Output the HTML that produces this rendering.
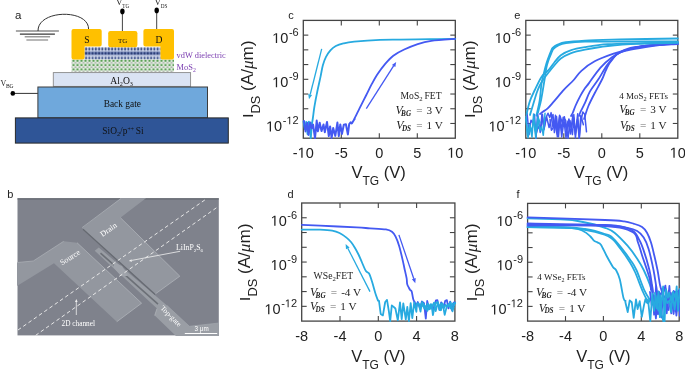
<!DOCTYPE html><html><head><meta charset="utf-8"><style>html,body{margin:0;padding:0;background:#fff;overflow:hidden;width:685px;height:369px;}svg{display:block;will-change:transform}</style></head><body>
<svg width="685" height="369" viewBox="0 0 685 369">
<defs>
<pattern id="diel" x="84.5" y="47.5" width="3.25" height="12" patternUnits="userSpaceOnUse"><rect width="3.25" height="12" fill="#c9d1e5"/><ellipse cx="1.6" cy="1.6" rx="1.0" ry="1.4" fill="#2f427b"/><rect x="0" y="4.2" width="3.25" height="3.2" fill="#6f82b6"/><ellipse cx="1.6" cy="5.8" rx="1.0" ry="1.5" fill="#2b3d76"/><ellipse cx="0" cy="5.8" rx="0.5" ry="0.9" fill="#4a5d95"/><ellipse cx="1.6" cy="10.6" rx="1.0" ry="1.3" fill="#42558e"/></pattern>
<pattern id="mos2" x="71.5" y="59.2" width="4" height="4.3" patternUnits="userSpaceOnUse"><rect width="4" height="4.3" fill="#e8efe6"/><circle cx="2" cy="1.6" r="1.25" fill="#5b9f56"/><circle cx="0" cy="3.7" r="0.8" fill="#8e988e"/><circle cx="4" cy="3.7" r="0.8" fill="#8e988e"/></pattern>
</defs>
<text x="15" y="18.8" font-family="'Liberation Sans', sans-serif" font-size="11.5" fill="#222">a</text>
<line x1="15.9" y1="31" x2="58.9" y2="31" stroke="#555" stroke-width="1.2"/>
<line x1="19.9" y1="34.2" x2="54.9" y2="34.2" stroke="#3a3a3a" stroke-width="1.2"/>
<line x1="24.7" y1="36.8" x2="50.1" y2="36.8" stroke="#808080" stroke-width="1.2"/>
<line x1="26.4" y1="40" x2="48.1" y2="40" stroke="#888" stroke-width="1.2"/>
<path d="M38,31 C37.5,9.5 89,8.5 88.6,29.3" fill="none" stroke="#333" stroke-width="1"/>
<line x1="122.4" y1="11.4" x2="122.4" y2="31.5" stroke="#444" stroke-width="1"/>
<ellipse cx="122.4" cy="11.4" rx="2.2" ry="2.8" fill="#000"/>
<line x1="156.7" y1="10.4" x2="156.7" y2="29.5" stroke="#444" stroke-width="1"/>
<ellipse cx="156.7" cy="10.4" rx="2.2" ry="2.8" fill="#000"/>
<text x="116" y="5.2" font-family="'Liberation Serif', serif" font-size="9" fill="#222">V</text>
<text x="122.3" y="7.6" font-family="'Liberation Serif', serif" font-size="5.2" fill="#222">TG</text>
<text x="154.4" y="5.2" font-family="'Liberation Serif', serif" font-size="9" fill="#222">V</text>
<text x="160.8" y="7.6" font-family="'Liberation Serif', serif" font-size="5.2" fill="#222">DS</text>
<rect x="71.5" y="59.3" width="102.5" height="12.6" fill="url(#mos2)"/>
<rect x="84.5" y="47.3" width="76" height="12" fill="url(#diel)"/>
<path d="M73.5,29 H99.7 Q101.7,29 101.7,31 V44.6 Q101.7,46.6 99.7,46.6 H84.6 V57.4 Q84.6,59.4 82.6,59.4 H73.5 Q71.5,59.4 71.5,57.4 V31 Q71.5,29 73.5,29 Z" fill="#ffc000"/>
<rect x="108.2" y="31" width="29.2" height="16.2" rx="2.2" fill="#ffc000"/>
<path d="M145.4,29 H172 Q174,29 174,31 V57.4 Q174,59.4 172,59.4 H162.5 Q160.5,59.4 160.5,57.4 V46.6 H145.4 Q143.4,46.6 143.4,44.6 V31 Q143.4,29 145.4,29 Z" fill="#ffc000"/>
<text x="86.8" y="43" font-family="'Liberation Serif', serif" font-size="9.6" fill="#111" text-anchor="middle">S</text>
<text x="122.6" y="43" font-family="'Liberation Serif', serif" font-size="7" fill="#111" text-anchor="middle">TG</text>
<text x="159" y="42.7" font-family="'Liberation Serif', serif" font-size="9.6" fill="#111" text-anchor="middle">D</text>
<text x="176.6" y="57.7" font-family="'Liberation Serif', serif" font-size="8.3" fill="#7a3db0" textLength="49.2" lengthAdjust="spacingAndGlyphs">vdW dielectric</text>
<text x="176.6" y="69.6" font-family="'Liberation Serif', serif" font-size="8.4" fill="#7a3db0">MoS<tspan font-size="5.8" dy="2">2</tspan></text>
<rect x="53.3" y="72.6" width="137.3" height="13.8" fill="#dae3f3" stroke="#8a8a8a" stroke-width="0.9"/>
<rect x="37.9" y="87.0" width="169.6" height="30.9" fill="#6fa8dc" stroke="#3c3c3c" stroke-width="1"/>
<rect x="15.4" y="117.9" width="212.9" height="25.2" fill="#2f5597" stroke="#2a2a2a" stroke-width="1"/>
<text x="121.6" y="83.8" font-family="'Liberation Serif', serif" font-size="9.6" fill="#111" text-anchor="middle">Al<tspan font-size="6.2" dy="2">2</tspan><tspan dy="-2">O</tspan><tspan font-size="6.2" dy="2">3</tspan></text>
<text x="122.3" y="106.6" font-family="'Liberation Serif', serif" font-size="9.4" fill="#111" text-anchor="middle">Back gate</text>
<text x="123" y="133.5" font-family="'Liberation Serif', serif" font-size="9.4" fill="#111" text-anchor="middle">SiO<tspan font-size="6.3" dy="2">2</tspan><tspan dy="-2">/p</tspan><tspan font-size="5.8" dy="-3">++</tspan><tspan dy="3"> Si</tspan></text>
<line x1="12.8" y1="93.4" x2="37.9" y2="93.4" stroke="#333" stroke-width="1"/>
<circle cx="12.8" cy="93.4" r="2.3" fill="#000"/>
<text x="0.5" y="86.1" font-family="'Liberation Serif', serif" font-size="8" fill="#222">V<tspan font-size="5.6" dx="-0.4" dy="2.1">BG</tspan></text>
<text x="7.2" y="198.3" font-family="'Liberation Sans', sans-serif" font-size="11" fill="#222">b</text>
<svg x="17.5" y="198.3" width="201.3" height="137.1" viewBox="17.5 198.3 201.3 137.1" overflow="hidden">
<rect x="17.5" y="198.3" width="201.3" height="137.1" fill="#7f828c"/>
<rect x="17.5" y="198.3" width="201.3" height="1.2" fill="#60646c"/>
<polygon points="82.1,227.9 121.1,198 146.2,198 120.4,217.7 179.8,276.2 155.5,293.8" fill="#93979f"/>
<polygon points="17,262.5 33.3,261 63.7,241.3 77,242.7 141.6,303.2 116.8,321.7 54,263.2 17,286" fill="#93979f"/>
<polygon points="94.7,250.8 98.8,247.6 167,305.5 189.4,326.3 219,323 219,336 176,336 154.7,315.5 157,308.6" fill="#9a9ea5"/>
<line x1="100.5" y1="253.2" x2="158" y2="304.2" stroke="#6c7077" stroke-width="1.6"/>
<line x1="83" y1="229.2" x2="155.2" y2="294.6" stroke="#666a71" stroke-width="1.2"/>
<polygon points="113,262 122,266 128,276 121,276 114,268" fill="#a0a4ab"/>
<line x1="82.1" y1="227.6" x2="121.1" y2="198.4" stroke="#a9adb4" stroke-width="0.8"/>
<line x1="33.3" y1="261" x2="63.7" y2="241.3" stroke="#a9adb4" stroke-width="0.8"/>
<line x1="17.5" y1="262.5" x2="33.3" y2="261" stroke="#a9adb4" stroke-width="0.8"/>
<line x1="154.7" y1="315.5" x2="157" y2="308.6" stroke="#aeb2b8" stroke-width="0.8"/>
<line x1="167" y1="305.5" x2="189.4" y2="326.3" stroke="#a5a9b0" stroke-width="0.6"/>
<line x1="189.4" y1="326.3" x2="219" y2="323" stroke="#a5a9b0" stroke-width="0.6"/>
<polyline points="120.4,217.7 179.8,276.2 155.5,293.8" fill="none" stroke="#aeb2b9" stroke-width="0.8"/>
<polyline points="77,242.7 141.6,303.2 116.8,321.7" fill="none" stroke="#aeb2b9" stroke-width="0.8"/>
<line x1="18" y1="330" x2="205.5" y2="199.5" stroke="#ececec" stroke-width="0.95" stroke-dasharray="3.6 2.8"/>
<line x1="35.6" y1="335.4" x2="218.7" y2="206.2" stroke="#ececec" stroke-width="0.95" stroke-dasharray="3.6 2.8"/>
<line x1="180.1" y1="251.3" x2="131.7" y2="260.4" stroke="#f0f0f0" stroke-width="0.8"/>
<polygon points="128.8,261.0 131.5,259.2 132.0,261.7" fill="#f0f0f0"/>
<line x1="76.3" y1="315.0" x2="76.3" y2="302.0" stroke="#f0f0f0" stroke-width="0.8"/>
<polygon points="76.3,299.0 77.6,302.0 75.0,302.0" fill="#f0f0f0"/>
<line x1="184.8" y1="333.5" x2="217.2" y2="333.5" stroke="#fff" stroke-width="1.1"/>
<text x="194.6" y="331" font-family="'Liberation Sans', sans-serif" font-size="6.3" fill="#fff">3 μm</text>
<text x="176" y="250.3" font-family="'Liberation Serif', serif" font-size="7.8" fill="#fff">LiInP<tspan font-size="5" dy="1.5">2</tspan><tspan dy="-1.5">S</tspan><tspan font-size="5" dy="1.5">6</tspan></text>
<text x="61.6" y="326" font-family="'Liberation Serif', serif" font-size="7.3" fill="#fff">2D channel</text>
<text transform="translate(102.5,237) rotate(-35)" font-family="'Liberation Serif', serif" font-size="8" fill="#fff">Drain</text>
<text transform="translate(62,265.5) rotate(-32)" font-family="'Liberation Serif', serif" font-size="8" fill="#fff">Source</text>
<text transform="translate(160,308.5) rotate(45)" font-family="'Liberation Serif', serif" font-size="7.4" fill="#fff">Top-gate</text>
</svg>
<rect x="303.3" y="20.4" width="152.0" height="117.79999999999998" fill="none" stroke="#444" stroke-width="1.3"/>
<line x1="341.3" y1="20.4" x2="341.3" y2="25.4" stroke="#444" stroke-width="1.1"/>
<line x1="341.3" y1="138.2" x2="341.3" y2="133.2" stroke="#444" stroke-width="1.1"/>
<line x1="379.3" y1="20.4" x2="379.3" y2="25.4" stroke="#444" stroke-width="1.1"/>
<line x1="379.3" y1="138.2" x2="379.3" y2="133.2" stroke="#444" stroke-width="1.1"/>
<line x1="417.3" y1="20.4" x2="417.3" y2="25.4" stroke="#444" stroke-width="1.1"/>
<line x1="417.3" y1="138.2" x2="417.3" y2="133.2" stroke="#444" stroke-width="1.1"/>
<line x1="303.3" y1="35.125" x2="308.3" y2="35.125" stroke="#444" stroke-width="1.1"/>
<line x1="455.3" y1="35.125" x2="450.3" y2="35.125" stroke="#444" stroke-width="1.1"/>
<line x1="303.3" y1="49.849999999999994" x2="308.3" y2="49.849999999999994" stroke="#444" stroke-width="1.1"/>
<line x1="455.3" y1="49.849999999999994" x2="450.3" y2="49.849999999999994" stroke="#444" stroke-width="1.1"/>
<line x1="303.3" y1="64.57499999999999" x2="308.3" y2="64.57499999999999" stroke="#444" stroke-width="1.1"/>
<line x1="455.3" y1="64.57499999999999" x2="450.3" y2="64.57499999999999" stroke="#444" stroke-width="1.1"/>
<line x1="303.3" y1="79.29999999999998" x2="308.3" y2="79.29999999999998" stroke="#444" stroke-width="1.1"/>
<line x1="455.3" y1="79.29999999999998" x2="450.3" y2="79.29999999999998" stroke="#444" stroke-width="1.1"/>
<line x1="303.3" y1="94.02499999999998" x2="308.3" y2="94.02499999999998" stroke="#444" stroke-width="1.1"/>
<line x1="455.3" y1="94.02499999999998" x2="450.3" y2="94.02499999999998" stroke="#444" stroke-width="1.1"/>
<line x1="303.3" y1="108.75" x2="308.3" y2="108.75" stroke="#444" stroke-width="1.1"/>
<line x1="455.3" y1="108.75" x2="450.3" y2="108.75" stroke="#444" stroke-width="1.1"/>
<line x1="303.3" y1="123.475" x2="308.3" y2="123.475" stroke="#444" stroke-width="1.1"/>
<line x1="455.3" y1="123.475" x2="450.3" y2="123.475" stroke="#444" stroke-width="1.1"/>
<text x="288.3" y="19.1" font-family="'Liberation Sans', sans-serif" font-size="11" fill="#222">c</text>
<text x="298.7" y="43.125" font-family="'Liberation Sans', sans-serif" font-size="14.5" fill="#222" text-anchor="end"> 0<tspan font-size="11" dx="0.6" dy="-7.2">-6</tspan></text>
<path transform="translate(272.19,43.12) scale(0.00708,-0.00708)" d="M515,0 L515,1237 L197,1010 L197,1180 L530,1409 L696,1409 L696,0 Z" fill="#222"/>
<text x="298.7" y="87.29999999999998" font-family="'Liberation Sans', sans-serif" font-size="14.5" fill="#222" text-anchor="end"> 0<tspan font-size="11" dx="0.6" dy="-7.2">-9</tspan></text>
<path transform="translate(272.19,87.30) scale(0.00708,-0.00708)" d="M515,0 L515,1237 L197,1010 L197,1180 L530,1409 L696,1409 L696,0 Z" fill="#222"/>
<text x="298.7" y="131.475" font-family="'Liberation Sans', sans-serif" font-size="14.5" fill="#222" text-anchor="end"> 0<tspan font-size="11" dx="0.6" dy="-7.2">- 2</tspan></text>
<path transform="translate(266.07,131.47) scale(0.00708,-0.00708)" d="M515,0 L515,1237 L197,1010 L197,1180 L530,1409 L696,1409 L696,0 Z" fill="#222"/>
<path transform="translate(286.46,124.27) scale(0.00537,-0.00537)" d="M515,0 L515,1237 L197,1010 L197,1180 L530,1409 L696,1409 L696,0 Z" fill="#222"/>
<text x="303.30" y="157.70" font-family="'Liberation Sans', sans-serif" font-size="14.5" fill="#222" text-anchor="middle">- 0</text>
<path transform="translate(297.65,157.70) scale(0.00708,-0.00708)" d="M515,0 L515,1237 L197,1010 L197,1180 L530,1409 L696,1409 L696,0 Z" fill="#222"/>
<text x="341.30" y="157.70" font-family="'Liberation Sans', sans-serif" font-size="14.5" fill="#222" text-anchor="middle">-5</text>
<text x="379.30" y="157.70" font-family="'Liberation Sans', sans-serif" font-size="14.5" fill="#222" text-anchor="middle">0</text>
<text x="417.30" y="157.70" font-family="'Liberation Sans', sans-serif" font-size="14.5" fill="#222" text-anchor="middle">5</text>
<text x="455.30" y="157.70" font-family="'Liberation Sans', sans-serif" font-size="14.5" fill="#222" text-anchor="middle"> 0</text>
<path transform="translate(447.24,157.70) scale(0.00708,-0.00708)" d="M515,0 L515,1237 L197,1010 L197,1180 L530,1409 L696,1409 L696,0 Z" fill="#222"/>
<svg x="302.5" y="19.599999999999998" width="153.6" height="119.39999999999998" viewBox="302.5 19.599999999999998 153.6 119.39999999999998" overflow="hidden">
<path d="M455.3,38.8 C451.1,38.9 439.2,39.1 430.0,39.2 C420.8,39.3 408.3,39.5 400.0,39.6 C391.7,39.7 387.6,39.5 380.0,39.9 C372.4,40.2 360.3,41.1 354.2,41.7 C348.1,42.3 346.5,42.7 343.4,43.4 C340.3,44.1 338.0,44.8 335.8,46.0 C333.6,47.2 332.0,48.6 330.4,50.4 C328.8,52.2 327.3,54.4 326.0,56.9 C324.7,59.4 323.7,62.2 322.8,65.5 C321.9,68.8 321.5,72.1 320.6,76.4 C319.7,80.7 318.1,87.6 317.3,91.5 C316.5,95.4 316.1,97.2 315.6,100.0 C315.1,102.8 314.7,104.7 314.2,108.0 C313.7,111.3 313.0,117.5 312.6,120.0 C312.2,122.5 312.1,122.5 312.0,123.0" fill="none" stroke="#27aae0" stroke-width="1.8" stroke-linejoin="round" stroke-linecap="round"/>
<path d="M303.5,121.7 L304.8,129.2 L306.2,121.8 L307.5,134.2 L308.9,121.7 L310.8,138.3 L312.0,123.0" fill="none" stroke="#27aae0" stroke-width="1.8" stroke-linejoin="round" stroke-linecap="round" />
<path d="M304.0,121.0 L305.5,131.4 L307.3,122.8 L308.5,134.9 L310.2,122.5 L311.7,128.2 L313.1,124.6 L315.0,138.4 L316.7,120.6 L317.9,131.3 L319.7,122.8 L321.5,131.1 L323.5,124.5 L324.8,132.2 L327.0,121.9 L328.8,136.1 L330.1,126.5 L331.6,137.9 L333.2,128.0 L335.3,135.9 L337.4,122.6 L338.8,136.2 L340.3,124.4 L342.0,133.9 L343.8,124.7 L345.9,124.3 L347.9,134.5 L349.2,124.1 L350.6,122.3 L351.8,123.4 L354.5,119.0" fill="none" stroke="#4459f2" stroke-width="2.0" stroke-linejoin="round" stroke-linecap="round" />
<path d="M354.5,119.0 C354.6,118.6 354.3,118.9 355.4,116.7 C356.4,114.5 359.0,109.5 360.8,105.9 C362.6,102.3 364.5,98.6 366.3,95.0 C368.1,91.4 369.9,87.6 371.7,84.2 C373.5,80.8 374.9,78.1 377.1,74.7 C379.4,71.3 382.5,67.1 385.2,63.9 C387.9,60.7 390.1,58.1 393.3,55.7 C396.5,53.3 400.1,51.4 404.2,49.5 C408.3,47.6 413.2,45.6 417.7,44.1 C422.2,42.6 425.1,41.7 431.3,40.8 C437.5,39.9 451.1,39.1 455.0,38.8" fill="none" stroke="#4459f2" stroke-width="1.8" stroke-linejoin="round" stroke-linecap="round"/>
</svg>
<line x1="366.3" y1="108.6" x2="393.6" y2="65.9" stroke="#4459f2" stroke-width="1.3"/>
<polygon points="396.2,61.9 395.3,67.0 391.9,64.9" fill="#4459f2"/>
<line x1="321.7" y1="48.8" x2="310.2" y2="94.5" stroke="#27aae0" stroke-width="1.3"/>
<polygon points="309.0,99.2 308.2,94.1 312.1,95.0" fill="#27aae0"/>
<text x="441.6" y="99" font-family="'Liberation Serif', serif" font-size="9.6" fill="#222" text-anchor="end" >MoS<tspan font-size="6.7" dy="2">2</tspan><tspan dy="-2"> FET</tspan></text>
<text x="442.9" y="113.8" font-family="'Liberation Serif', serif" font-size="11.2" fill="#222" text-anchor="end"><tspan font-style="italic" font-size="11.8">V</tspan><tspan font-style="italic" font-weight="bold" font-size="7.2" dx="-1.6" dy="1.7">BG</tspan><tspan dx="2.4" dy="-1.7" fill="#6a6a6a"> =</tspan><tspan dx="1.2"> 3 V</tspan></text>
<text x="442.9" y="129" font-family="'Liberation Serif', serif" font-size="11.2" fill="#222" text-anchor="end"><tspan font-style="italic" font-size="11.8">V</tspan><tspan font-style="italic" font-weight="bold" font-size="7.2" dx="-1.6" dy="1.7">DS</tspan><tspan dx="2.4" dy="-1.7" fill="#6a6a6a"> =</tspan><tspan dx="1.2"> 1 V</tspan></text>
<text transform="translate(252.5,79.3) rotate(-90) scale(1.07,1)" font-family="'Liberation Sans', sans-serif" font-size="15.5" fill="#222" text-anchor="middle">I<tspan font-size="12" dy="7.3">DS</tspan><tspan font-size="16" dy="-7.3"> (A/</tspan><tspan font-size="16" font-family="'Liberation Serif', serif" font-style="italic">μ</tspan><tspan font-size="16">m)</tspan></text>
<text x="378.6" y="178.1" font-family="'Liberation Sans', sans-serif" font-size="16.5" fill="#222" text-anchor="middle">V<tspan font-size="12" dy="7.1">TG</tspan><tspan dy="-7.1"> (V)</tspan></text>
<rect x="525.8" y="20.4" width="152.0" height="117.79999999999998" fill="none" stroke="#444" stroke-width="1.3"/>
<line x1="563.8" y1="20.4" x2="563.8" y2="25.4" stroke="#444" stroke-width="1.1"/>
<line x1="563.8" y1="138.2" x2="563.8" y2="133.2" stroke="#444" stroke-width="1.1"/>
<line x1="601.8" y1="20.4" x2="601.8" y2="25.4" stroke="#444" stroke-width="1.1"/>
<line x1="601.8" y1="138.2" x2="601.8" y2="133.2" stroke="#444" stroke-width="1.1"/>
<line x1="639.8" y1="20.4" x2="639.8" y2="25.4" stroke="#444" stroke-width="1.1"/>
<line x1="639.8" y1="138.2" x2="639.8" y2="133.2" stroke="#444" stroke-width="1.1"/>
<line x1="525.8" y1="35.125" x2="530.8" y2="35.125" stroke="#444" stroke-width="1.1"/>
<line x1="677.8" y1="35.125" x2="672.8" y2="35.125" stroke="#444" stroke-width="1.1"/>
<line x1="525.8" y1="49.849999999999994" x2="530.8" y2="49.849999999999994" stroke="#444" stroke-width="1.1"/>
<line x1="677.8" y1="49.849999999999994" x2="672.8" y2="49.849999999999994" stroke="#444" stroke-width="1.1"/>
<line x1="525.8" y1="64.57499999999999" x2="530.8" y2="64.57499999999999" stroke="#444" stroke-width="1.1"/>
<line x1="677.8" y1="64.57499999999999" x2="672.8" y2="64.57499999999999" stroke="#444" stroke-width="1.1"/>
<line x1="525.8" y1="79.29999999999998" x2="530.8" y2="79.29999999999998" stroke="#444" stroke-width="1.1"/>
<line x1="677.8" y1="79.29999999999998" x2="672.8" y2="79.29999999999998" stroke="#444" stroke-width="1.1"/>
<line x1="525.8" y1="94.02499999999998" x2="530.8" y2="94.02499999999998" stroke="#444" stroke-width="1.1"/>
<line x1="677.8" y1="94.02499999999998" x2="672.8" y2="94.02499999999998" stroke="#444" stroke-width="1.1"/>
<line x1="525.8" y1="108.75" x2="530.8" y2="108.75" stroke="#444" stroke-width="1.1"/>
<line x1="677.8" y1="108.75" x2="672.8" y2="108.75" stroke="#444" stroke-width="1.1"/>
<line x1="525.8" y1="123.475" x2="530.8" y2="123.475" stroke="#444" stroke-width="1.1"/>
<line x1="677.8" y1="123.475" x2="672.8" y2="123.475" stroke="#444" stroke-width="1.1"/>
<text x="514.2" y="18.9" font-family="'Liberation Sans', sans-serif" font-size="11" fill="#222">e</text>
<text x="521.1999999999999" y="43.125" font-family="'Liberation Sans', sans-serif" font-size="14.5" fill="#222" text-anchor="end"> 0<tspan font-size="11" dx="0.6" dy="-7.2">-6</tspan></text>
<path transform="translate(494.69,43.12) scale(0.00708,-0.00708)" d="M515,0 L515,1237 L197,1010 L197,1180 L530,1409 L696,1409 L696,0 Z" fill="#222"/>
<text x="521.1999999999999" y="87.29999999999998" font-family="'Liberation Sans', sans-serif" font-size="14.5" fill="#222" text-anchor="end"> 0<tspan font-size="11" dx="0.6" dy="-7.2">-9</tspan></text>
<path transform="translate(494.69,87.30) scale(0.00708,-0.00708)" d="M515,0 L515,1237 L197,1010 L197,1180 L530,1409 L696,1409 L696,0 Z" fill="#222"/>
<text x="521.1999999999999" y="131.475" font-family="'Liberation Sans', sans-serif" font-size="14.5" fill="#222" text-anchor="end"> 0<tspan font-size="11" dx="0.6" dy="-7.2">- 2</tspan></text>
<path transform="translate(488.57,131.47) scale(0.00708,-0.00708)" d="M515,0 L515,1237 L197,1010 L197,1180 L530,1409 L696,1409 L696,0 Z" fill="#222"/>
<path transform="translate(508.96,124.27) scale(0.00537,-0.00537)" d="M515,0 L515,1237 L197,1010 L197,1180 L530,1409 L696,1409 L696,0 Z" fill="#222"/>
<text x="525.80" y="157.70" font-family="'Liberation Sans', sans-serif" font-size="14.5" fill="#222" text-anchor="middle">- 0</text>
<path transform="translate(520.15,157.70) scale(0.00708,-0.00708)" d="M515,0 L515,1237 L197,1010 L197,1180 L530,1409 L696,1409 L696,0 Z" fill="#222"/>
<text x="563.80" y="157.70" font-family="'Liberation Sans', sans-serif" font-size="14.5" fill="#222" text-anchor="middle">-5</text>
<text x="601.80" y="157.70" font-family="'Liberation Sans', sans-serif" font-size="14.5" fill="#222" text-anchor="middle">0</text>
<text x="639.80" y="157.70" font-family="'Liberation Sans', sans-serif" font-size="14.5" fill="#222" text-anchor="middle">5</text>
<text x="677.80" y="157.70" font-family="'Liberation Sans', sans-serif" font-size="14.5" fill="#222" text-anchor="middle"> 0</text>
<path transform="translate(669.74,157.70) scale(0.00708,-0.00708)" d="M515,0 L515,1237 L197,1010 L197,1180 L530,1409 L696,1409 L696,0 Z" fill="#222"/>
<svg x="525.0" y="19.599999999999998" width="153.6" height="119.39999999999998" viewBox="525.0 19.599999999999998 153.6 119.39999999999998" overflow="hidden">
<path d="M527.0,112.9 L529.1,134.5 L531.0,120.2 L532.9,123.0 L534.5,114.5 L536.0,138.7 L537.6,113.3 L540.2,132.5 L541.9,114.4 L544.0,129.7 L545.6,118.4 L548.0,113.3 L549.7,117.5 L551.1,112.6 L552.8,126.5 L555.4,125.8 L557.2,134.2 L559.7,116.1 L561.7,137.0 L564.0,120.6 L566.0,137.8 L567.9,121.3 L570.4,133.9 L572.8,115.5" fill="none" stroke="#4459f2" stroke-width="1.5" stroke-linejoin="round" stroke-linecap="round" />
<path d="M534.0,121.5 L536.1,134.1 L538.2,126.5 L540.7,131.2 L542.4,114.2 L544.1,128.7 L546.6,117.0 L549.1,127.5 L551.1,120.0 L553.0,114.4 L554.4,132.6 L556.5,116.4 L558.5,136.8 L560.2,116.5 L562.2,122.5 L564.4,116.8 L566.4,131.2 L568.9,119.0 L571.4,128.7 L573.8,114.6 L575.3,134.4 L577.7,113.8 L579.3,138.4 L580.9,121.4 L582.8,112.0 L584.7,114.4 L586.5,131.8" fill="none" stroke="#4459f2" stroke-width="1.5" stroke-linejoin="round" stroke-linecap="round" />
<path d="M550.0,119.6 L551.4,130.2 L554.0,126.5 L555.5,115.2 L557.3,136.7 L559.6,115.2 L561.7,131.0 L563.2,117.2 L565.7,120.5 L568.1,138.5 L569.9,120.5 L572.4,134.6 L573.9,117.9 L575.4,138.0 L577.4,119.6 L579.2,137.9 L580.8,115.5 L583.4,124.8" fill="none" stroke="#4459f2" stroke-width="1.5" stroke-linejoin="round" stroke-linecap="round" />
<path d="M677.8,43.3 C672.5,43.7 654.4,44.5 645.9,45.6 C637.4,46.7 632.3,48.5 626.9,49.9 C621.5,51.2 619.0,51.8 613.6,53.7 C608.2,55.6 600.1,58.4 594.7,61.3 C589.3,64.1 584.9,67.7 581.4,70.8 C577.9,73.9 576.6,76.8 573.7,80.0 C570.8,83.2 567.2,86.2 564.0,89.7 C560.8,93.2 556.9,98.0 554.2,101.1 C551.5,104.2 549.6,106.6 547.7,108.4 C545.8,110.2 544.2,110.8 542.9,111.7 C541.6,112.6 540.5,113.6 540.0,114.0" fill="none" stroke="#4459f2" stroke-width="1.8" stroke-linejoin="round" stroke-linecap="round"/>
<path d="M677.8,44.2 C671.8,44.5 651.2,44.9 642.1,46.1 C633.0,47.3 628.2,49.3 623.1,51.2 C618.0,53.1 615.5,54.7 611.7,57.5 C607.9,60.3 604.1,63.6 600.3,67.9 C596.5,72.2 591.5,79.7 589.0,83.1 C586.5,86.5 586.6,85.9 585.1,88.1 C583.6,90.3 581.8,93.2 580.2,96.2 C578.6,99.2 576.6,103.3 575.4,106.0 C574.2,108.7 573.6,110.8 572.9,112.5 C572.2,114.2 571.3,115.4 571.0,116.0" fill="none" stroke="#4459f2" stroke-width="1.8" stroke-linejoin="round" stroke-linecap="round"/>
<path d="M677.8,43.7 C670.6,44.3 644.2,45.6 634.5,47.1 C624.8,48.6 623.7,50.0 619.3,52.8 C614.9,55.6 611.4,59.7 607.9,64.1 C604.4,68.5 601.4,74.8 598.4,79.3 C595.4,83.8 592.2,87.5 590.0,91.4 C587.8,95.3 586.7,99.2 585.1,102.7 C583.5,106.2 581.2,110.3 580.2,112.5 C579.2,114.7 579.2,115.4 579.0,116.0" fill="none" stroke="#4459f2" stroke-width="1.8" stroke-linejoin="round" stroke-linecap="round"/>
<path d="M677.8,42.3 C669.0,43.7 636.0,47.9 625.0,50.9 C614.0,53.9 614.9,57.1 611.7,60.3 C608.5,63.5 607.6,66.8 606.0,70.0 C604.4,73.2 603.9,75.7 602.0,79.5 C600.1,83.3 597.1,88.6 594.8,93.0 C592.5,97.4 590.0,102.2 588.4,106.0 C586.8,109.8 585.8,113.5 585.1,115.7 C584.4,117.9 584.2,118.5 584.0,119.0" fill="none" stroke="#4459f2" stroke-width="1.8" stroke-linejoin="round" stroke-linecap="round"/>
<path d="M677.8,38.5 C668.2,38.7 635.5,39.1 620.0,39.5 C604.5,39.9 594.0,40.1 585.0,40.6 C576.0,41.1 570.3,41.5 565.7,42.2 C561.1,42.9 559.7,43.7 557.5,44.6 C555.3,45.5 553.7,46.8 552.6,47.9 C551.5,49.0 551.8,49.2 551.0,51.1 C550.2,53.0 548.8,56.6 547.8,59.3 C546.8,62.0 546.1,64.4 545.3,67.4 C544.5,70.4 543.6,74.3 542.9,77.2 C542.2,80.1 541.8,81.0 541.3,85.0 C540.8,89.0 540.4,95.9 539.6,101.0 C538.8,106.1 536.9,113.2 536.4,115.7" fill="none" stroke="#27aae0" stroke-width="1.8" stroke-linejoin="round" stroke-linecap="round"/>
<path d="M677.8,41.4 C668.2,41.4 635.5,41.5 620.0,41.6 C604.5,41.7 594.0,41.4 585.0,41.7 C576.0,42.0 570.5,42.6 566.0,43.2 C561.5,43.9 560.1,44.7 558.0,45.6 C555.9,46.5 554.5,47.8 553.5,48.9 C552.5,50.0 552.6,50.1 551.8,52.0 C551.0,53.9 549.5,57.3 548.6,60.0 C547.7,62.7 547.0,64.7 546.3,68.0 C545.6,71.3 545.4,74.8 544.5,80.0 C543.6,85.2 542.3,94.1 541.2,99.5 C540.1,104.9 538.5,110.3 538.0,112.5" fill="none" stroke="#27aae0" stroke-width="1.8" stroke-linejoin="round" stroke-linecap="round"/>
<path d="M677.8,42.9 C671.5,43.0 651.6,43.3 640.0,43.5 C628.4,43.7 617.1,43.6 607.9,44.2 C598.7,44.8 591.2,46.1 585.0,47.1 C578.8,48.1 574.5,48.9 570.5,50.3 C566.5,51.6 563.5,53.2 560.8,55.2 C558.1,57.2 556.2,60.2 554.3,62.5 C552.4,64.8 550.8,67.4 549.4,69.0 C548.0,70.6 547.5,70.9 546.1,72.3 C544.8,73.7 543.2,74.2 541.3,77.2 C539.4,80.2 536.7,86.0 534.8,90.0 C532.9,94.0 531.3,97.1 529.9,101.1 C528.5,105.1 527.1,111.9 526.6,114.1" fill="none" stroke="#27aae0" stroke-width="1.8" stroke-linejoin="round" stroke-linecap="round"/>
<path d="M677.8,42.2 C671.5,42.4 651.6,43.0 640.0,43.6 C628.4,44.2 617.1,45.0 607.9,46.0 C598.7,47.0 591.2,48.4 585.0,49.6 C578.8,50.8 574.5,51.8 570.5,53.3 C566.5,54.8 563.5,56.5 560.8,58.5 C558.1,60.5 556.2,63.3 554.3,65.5 C552.4,67.7 550.9,69.6 549.4,71.5 C547.9,73.4 546.6,74.8 545.0,77.0 C543.4,79.2 541.3,82.5 540.0,85.0 C538.7,87.5 538.2,88.7 537.0,92.0 C535.8,95.3 534.2,101.2 533.0,105.0 C531.8,108.8 530.5,113.3 530.0,115.0" fill="none" stroke="#27aae0" stroke-width="1.8" stroke-linejoin="round" stroke-linecap="round"/>
<path d="M526.0,119.1 L528.0,137.8 L530.2,127.0 L532.0,137.2 L533.6,113.9 L536.0,133.7 L537.9,118.8 L539.9,130.6 L541.6,126.5 L543.3,135.3 L545.0,113.2" fill="none" stroke="#27aae0" stroke-width="1.5" stroke-linejoin="round" stroke-linecap="round" />
<path d="M526.0,116.2 L527.5,135.5 L529.6,124.3 L531.8,132.1 L533.6,118.9 L535.8,138.2 L537.9,116.9 L540.0,122.5" fill="none" stroke="#27aae0" stroke-width="1.5" stroke-linejoin="round" stroke-linecap="round" />
</svg>
<text x="667.9" y="98.7" font-family="'Liberation Serif', serif" font-size="9" fill="#222" text-anchor="end" >4 MoS<tspan font-size="6.3" dy="1.8">2</tspan><tspan dy="-1.8"> FETs</tspan></text>
<text x="666.6" y="113.3" font-family="'Liberation Serif', serif" font-size="11.2" fill="#222" text-anchor="end"><tspan font-style="italic" font-size="11.8">V</tspan><tspan font-style="italic" font-weight="bold" font-size="7.2" dx="-1.6" dy="1.7">BG</tspan><tspan dx="2.4" dy="-1.7" fill="#6a6a6a"> =</tspan><tspan dx="1.2"> 3 V</tspan></text>
<text x="666.6" y="128.8" font-family="'Liberation Serif', serif" font-size="11.2" fill="#222" text-anchor="end"><tspan font-style="italic" font-size="11.8">V</tspan><tspan font-style="italic" font-weight="bold" font-size="7.2" dx="-1.6" dy="1.7">DS</tspan><tspan dx="2.4" dy="-1.7" fill="#6a6a6a"> =</tspan><tspan dx="1.2"> 1 V</tspan></text>
<text transform="translate(474.5,79.3) rotate(-90) scale(1.07,1)" font-family="'Liberation Sans', sans-serif" font-size="15.5" fill="#222" text-anchor="middle">I<tspan font-size="12" dy="7.3">DS</tspan><tspan font-size="16" dy="-7.3"> (A/</tspan><tspan font-size="16" font-family="'Liberation Serif', serif" font-style="italic">μ</tspan><tspan font-size="16">m)</tspan></text>
<text x="601" y="178.1" font-family="'Liberation Sans', sans-serif" font-size="16.5" fill="#222" text-anchor="middle">V<tspan font-size="12" dy="7.1">TG</tspan><tspan dy="-7.1"> (V)</tspan></text>
<rect x="301.7" y="203.0" width="153.2" height="118.10000000000002" fill="none" stroke="#444" stroke-width="1.3"/>
<line x1="340.0" y1="203.0" x2="340.0" y2="208.0" stroke="#444" stroke-width="1.1"/>
<line x1="340.0" y1="321.1" x2="340.0" y2="316.1" stroke="#444" stroke-width="1.1"/>
<line x1="378.29999999999995" y1="203.0" x2="378.29999999999995" y2="208.0" stroke="#444" stroke-width="1.1"/>
<line x1="378.29999999999995" y1="321.1" x2="378.29999999999995" y2="316.1" stroke="#444" stroke-width="1.1"/>
<line x1="416.59999999999997" y1="203.0" x2="416.59999999999997" y2="208.0" stroke="#444" stroke-width="1.1"/>
<line x1="416.59999999999997" y1="321.1" x2="416.59999999999997" y2="316.1" stroke="#444" stroke-width="1.1"/>
<line x1="301.7" y1="217.7625" x2="306.7" y2="217.7625" stroke="#444" stroke-width="1.1"/>
<line x1="454.9" y1="217.7625" x2="449.9" y2="217.7625" stroke="#444" stroke-width="1.1"/>
<line x1="301.7" y1="232.525" x2="306.7" y2="232.525" stroke="#444" stroke-width="1.1"/>
<line x1="454.9" y1="232.525" x2="449.9" y2="232.525" stroke="#444" stroke-width="1.1"/>
<line x1="301.7" y1="247.28750000000002" x2="306.7" y2="247.28750000000002" stroke="#444" stroke-width="1.1"/>
<line x1="454.9" y1="247.28750000000002" x2="449.9" y2="247.28750000000002" stroke="#444" stroke-width="1.1"/>
<line x1="301.7" y1="262.05" x2="306.7" y2="262.05" stroke="#444" stroke-width="1.1"/>
<line x1="454.9" y1="262.05" x2="449.9" y2="262.05" stroke="#444" stroke-width="1.1"/>
<line x1="301.7" y1="276.8125" x2="306.7" y2="276.8125" stroke="#444" stroke-width="1.1"/>
<line x1="454.9" y1="276.8125" x2="449.9" y2="276.8125" stroke="#444" stroke-width="1.1"/>
<line x1="301.7" y1="291.57500000000005" x2="306.7" y2="291.57500000000005" stroke="#444" stroke-width="1.1"/>
<line x1="454.9" y1="291.57500000000005" x2="449.9" y2="291.57500000000005" stroke="#444" stroke-width="1.1"/>
<line x1="301.7" y1="306.33750000000003" x2="306.7" y2="306.33750000000003" stroke="#444" stroke-width="1.1"/>
<line x1="454.9" y1="306.33750000000003" x2="449.9" y2="306.33750000000003" stroke="#444" stroke-width="1.1"/>
<text x="287.6" y="198.2" font-family="'Liberation Sans', sans-serif" font-size="11" fill="#222">d</text>
<text x="297.09999999999997" y="225.7625" font-family="'Liberation Sans', sans-serif" font-size="14.5" fill="#222" text-anchor="end"> 0<tspan font-size="11" dx="0.6" dy="-7.2">-6</tspan></text>
<path transform="translate(270.59,225.76) scale(0.00708,-0.00708)" d="M515,0 L515,1237 L197,1010 L197,1180 L530,1409 L696,1409 L696,0 Z" fill="#222"/>
<text x="297.09999999999997" y="270.05" font-family="'Liberation Sans', sans-serif" font-size="14.5" fill="#222" text-anchor="end"> 0<tspan font-size="11" dx="0.6" dy="-7.2">-9</tspan></text>
<path transform="translate(270.59,270.05) scale(0.00708,-0.00708)" d="M515,0 L515,1237 L197,1010 L197,1180 L530,1409 L696,1409 L696,0 Z" fill="#222"/>
<text x="297.09999999999997" y="314.33750000000003" font-family="'Liberation Sans', sans-serif" font-size="14.5" fill="#222" text-anchor="end"> 0<tspan font-size="11" dx="0.6" dy="-7.2">- 2</tspan></text>
<path transform="translate(264.47,314.34) scale(0.00708,-0.00708)" d="M515,0 L515,1237 L197,1010 L197,1180 L530,1409 L696,1409 L696,0 Z" fill="#222"/>
<path transform="translate(284.86,307.14) scale(0.00537,-0.00537)" d="M515,0 L515,1237 L197,1010 L197,1180 L530,1409 L696,1409 L696,0 Z" fill="#222"/>
<text x="301.70" y="340.60" font-family="'Liberation Sans', sans-serif" font-size="14.5" fill="#222" text-anchor="middle">-8</text>
<text x="340.00" y="340.60" font-family="'Liberation Sans', sans-serif" font-size="14.5" fill="#222" text-anchor="middle">-4</text>
<text x="378.30" y="340.60" font-family="'Liberation Sans', sans-serif" font-size="14.5" fill="#222" text-anchor="middle">0</text>
<text x="416.60" y="340.60" font-family="'Liberation Sans', sans-serif" font-size="14.5" fill="#222" text-anchor="middle">4</text>
<text x="454.90" y="340.60" font-family="'Liberation Sans', sans-serif" font-size="14.5" fill="#222" text-anchor="middle">8</text>
<svg x="300.9" y="202.2" width="154.79999999999998" height="119.70000000000002" viewBox="300.9 202.2 154.79999999999998 119.70000000000002" overflow="hidden">
<path d="M301.9,224.8 C304.9,225.0 310.9,225.3 320.0,225.7 C329.1,226.1 348.3,227.0 356.6,227.4 C364.9,227.8 365.1,228.0 370.0,228.3 C374.9,228.6 382.2,228.8 385.9,229.4 C389.6,230.0 390.4,230.6 392.0,231.8 C393.6,233.0 394.4,234.2 395.6,236.7 C396.8,239.1 398.1,242.4 399.3,246.5 C400.5,250.6 402.1,257.6 402.9,261.1 C403.7,264.6 403.7,264.9 404.3,267.7 C404.9,270.5 406.1,275.5 406.6,278.2 C407.1,280.9 406.8,282.5 407.2,284.1 C407.6,285.7 408.5,287.0 409.0,288.0 C409.5,289.0 409.8,289.4 410.2,290.0 C410.6,290.6 411.2,290.0 411.7,291.5 C412.2,293.0 412.7,297.2 413.2,299.0 C413.7,300.8 414.3,301.5 414.5,302.0" fill="none" stroke="#4459f2" stroke-width="1.8" stroke-linejoin="round" stroke-linecap="round"/>
<path d="M414.5,301.9 L416.5,306.5 L417.8,302.0 L420.0,308.3 L421.9,301.5 L424.0,303.2 L425.8,318.7 L427.2,301.0 L429.2,309.2 L430.9,304.9 L432.9,310.4 L434.3,305.7 L435.9,300.4 L437.4,300.2 L439.4,309.6 L441.2,302.3 L443.4,307.7 L445.2,300.9 L446.9,300.2 L448.4,308.4 L450.2,301.6 L452.1,310.4 L453.6,302.8 L454.8,302.1" fill="none" stroke="#4459f2" stroke-width="1.8" stroke-linejoin="round" stroke-linecap="round" />
<path d="M301.7,229.7 C304.8,229.7 314.9,229.4 320.0,229.6 C325.1,229.8 328.9,230.0 332.2,230.6 C335.4,231.2 337.1,231.8 339.5,233.0 C341.9,234.2 344.9,236.3 346.8,237.9 C348.8,239.5 349.8,240.6 351.2,242.3 C352.6,244.0 353.8,246.0 355.0,248.0 C356.2,250.0 357.3,252.1 358.5,254.5 C359.7,256.9 360.8,259.8 362.0,262.5 C363.2,265.2 364.7,269.2 365.9,271.0 C367.1,272.8 368.1,271.8 369.1,273.5 C370.1,275.2 370.9,278.1 372.0,281.5 C373.1,284.9 374.6,290.8 375.6,294.0 C376.6,297.2 377.6,299.4 378.0,300.5" fill="none" stroke="#27aae0" stroke-width="1.8" stroke-linejoin="round" stroke-linecap="round"/>
<path d="M378.0,300.5 L379.0,300.8 L380.7,313.9 L382.9,315.4 L385.2,302.0 L387.0,299.9 L388.8,310.9 L390.2,321.2 L391.8,305.4 L393.4,306.6 L395.4,308.5 L397.8,320.3 L400.0,302.3 L401.7,319.1 L403.3,303.3 L405.8,319.5 L407.3,306.9 L408.9,321.1 L410.7,303.1 L412.3,318.1 L414.2,302.3 L416.4,311.8 L417.0,304.0" fill="none" stroke="#27aae0" stroke-width="1.8" stroke-linejoin="round" stroke-linecap="round" />
<path d="M417.0,304.0 L417.0,303.5 L418.6,303.4 L420.5,311.6 L422.1,302.0 L424.3,308.5 L425.6,306.3 L427.4,310.9 L429.1,306.1 L430.6,304.3 L432.0,306.8 L434.0,302.6 L435.7,311.1 L438.0,302.3 L439.6,310.2 L441.0,303.5 L442.8,304.4 L444.7,314.9 L447.0,305.6 L448.5,306.3 L450.5,302.2 L452.5,311.3 L454.5,303.8 L456.1,302.9" fill="none" stroke="#27aae0" stroke-width="1.8" stroke-linejoin="round" stroke-linecap="round" />
<path d="M420.0,304.3 L421.9,306.3 L423.6,303.7 L425.8,309.2 L427.7,303.6 L429.8,309.2 L431.6,304.4 L432.9,315.1 L435.3,303.8 L437.0,302.0 L439.2,306.2 L440.9,310.2 L442.3,303.4 L443.7,308.4 L445.5,304.8 L446.8,306.3 L449.2,303.7 L450.6,308.5 L452.8,303.6 L455.2,303.2" fill="none" stroke="#27aae0" stroke-width="1.8" stroke-linejoin="round" stroke-linecap="round" />
</svg>
<line x1="370.0" y1="291.6" x2="347.8" y2="248.3" stroke="#27aae0" stroke-width="1.3"/>
<polygon points="345.6,244.0 349.6,247.4 346.0,249.2" fill="#27aae0"/>
<line x1="398.9" y1="234.9" x2="413.8" y2="278.7" stroke="#4459f2" stroke-width="1.3"/>
<polygon points="415.3,283.2 411.9,279.3 415.7,278.0" fill="#4459f2"/>
<text x="313.6" y="278.8" font-family="'Liberation Serif', serif" font-size="9.7" fill="#222" text-anchor="start" >WSe<tspan font-size="6.8" dy="2">2</tspan><tspan dy="-2">FET</tspan></text>
<text x="310" y="295.8" font-family="'Liberation Serif', serif" font-size="11.2" fill="#222" text-anchor="start"><tspan font-style="italic" font-size="11.8">V</tspan><tspan font-style="italic" font-weight="bold" font-size="7.2" dx="-1.6" dy="1.7">BG</tspan><tspan dx="2.4" dy="-1.7" fill="#6a6a6a"> =</tspan><tspan dx="1.2"> -4 V</tspan></text>
<text x="310" y="310.4" font-family="'Liberation Serif', serif" font-size="11.2" fill="#222" text-anchor="start"><tspan font-style="italic" font-size="11.8">V</tspan><tspan font-style="italic" font-weight="bold" font-size="7.2" dx="-1.6" dy="1.7">DS</tspan><tspan dx="2.4" dy="-1.7" fill="#6a6a6a"> =</tspan><tspan dx="1.2"> 1 V</tspan></text>
<text transform="translate(249.5,262.4) rotate(-90) scale(1.07,1)" font-family="'Liberation Sans', sans-serif" font-size="15.5" fill="#222" text-anchor="middle">I<tspan font-size="12" dy="7.3">DS</tspan><tspan font-size="16" dy="-7.3"> (A/</tspan><tspan font-size="16" font-family="'Liberation Serif', serif" font-style="italic">μ</tspan><tspan font-size="16">m)</tspan></text>
<text x="378.4" y="361.5" font-family="'Liberation Sans', sans-serif" font-size="16.5" fill="#222" text-anchor="middle">V<tspan font-size="12" dy="7.1">TG</tspan><tspan dy="-7.1"> (V)</tspan></text>
<rect x="527.6" y="203.4" width="151.60000000000002" height="117.70000000000002" fill="none" stroke="#444" stroke-width="1.3"/>
<line x1="565.5" y1="203.4" x2="565.5" y2="208.4" stroke="#444" stroke-width="1.1"/>
<line x1="565.5" y1="321.1" x2="565.5" y2="316.1" stroke="#444" stroke-width="1.1"/>
<line x1="603.4000000000001" y1="203.4" x2="603.4000000000001" y2="208.4" stroke="#444" stroke-width="1.1"/>
<line x1="603.4000000000001" y1="321.1" x2="603.4000000000001" y2="316.1" stroke="#444" stroke-width="1.1"/>
<line x1="641.3000000000001" y1="203.4" x2="641.3000000000001" y2="208.4" stroke="#444" stroke-width="1.1"/>
<line x1="641.3000000000001" y1="321.1" x2="641.3000000000001" y2="316.1" stroke="#444" stroke-width="1.1"/>
<line x1="527.6" y1="218.1125" x2="532.6" y2="218.1125" stroke="#444" stroke-width="1.1"/>
<line x1="679.2" y1="218.1125" x2="674.2" y2="218.1125" stroke="#444" stroke-width="1.1"/>
<line x1="527.6" y1="232.82500000000002" x2="532.6" y2="232.82500000000002" stroke="#444" stroke-width="1.1"/>
<line x1="679.2" y1="232.82500000000002" x2="674.2" y2="232.82500000000002" stroke="#444" stroke-width="1.1"/>
<line x1="527.6" y1="247.53750000000002" x2="532.6" y2="247.53750000000002" stroke="#444" stroke-width="1.1"/>
<line x1="679.2" y1="247.53750000000002" x2="674.2" y2="247.53750000000002" stroke="#444" stroke-width="1.1"/>
<line x1="527.6" y1="262.25" x2="532.6" y2="262.25" stroke="#444" stroke-width="1.1"/>
<line x1="679.2" y1="262.25" x2="674.2" y2="262.25" stroke="#444" stroke-width="1.1"/>
<line x1="527.6" y1="276.96250000000003" x2="532.6" y2="276.96250000000003" stroke="#444" stroke-width="1.1"/>
<line x1="679.2" y1="276.96250000000003" x2="674.2" y2="276.96250000000003" stroke="#444" stroke-width="1.1"/>
<line x1="527.6" y1="291.675" x2="532.6" y2="291.675" stroke="#444" stroke-width="1.1"/>
<line x1="679.2" y1="291.675" x2="674.2" y2="291.675" stroke="#444" stroke-width="1.1"/>
<line x1="527.6" y1="306.38750000000005" x2="532.6" y2="306.38750000000005" stroke="#444" stroke-width="1.1"/>
<line x1="679.2" y1="306.38750000000005" x2="674.2" y2="306.38750000000005" stroke="#444" stroke-width="1.1"/>
<text x="516.5" y="198.2" font-family="'Liberation Sans', sans-serif" font-size="11" fill="#222">f</text>
<text x="523.0" y="226.1125" font-family="'Liberation Sans', sans-serif" font-size="14.5" fill="#222" text-anchor="end"> 0<tspan font-size="11" dx="0.6" dy="-7.2">-6</tspan></text>
<path transform="translate(496.49,226.11) scale(0.00708,-0.00708)" d="M515,0 L515,1237 L197,1010 L197,1180 L530,1409 L696,1409 L696,0 Z" fill="#222"/>
<text x="523.0" y="270.25" font-family="'Liberation Sans', sans-serif" font-size="14.5" fill="#222" text-anchor="end"> 0<tspan font-size="11" dx="0.6" dy="-7.2">-9</tspan></text>
<path transform="translate(496.49,270.25) scale(0.00708,-0.00708)" d="M515,0 L515,1237 L197,1010 L197,1180 L530,1409 L696,1409 L696,0 Z" fill="#222"/>
<text x="523.0" y="314.38750000000005" font-family="'Liberation Sans', sans-serif" font-size="14.5" fill="#222" text-anchor="end"> 0<tspan font-size="11" dx="0.6" dy="-7.2">- 2</tspan></text>
<path transform="translate(490.37,314.39) scale(0.00708,-0.00708)" d="M515,0 L515,1237 L197,1010 L197,1180 L530,1409 L696,1409 L696,0 Z" fill="#222"/>
<path transform="translate(510.76,307.19) scale(0.00537,-0.00537)" d="M515,0 L515,1237 L197,1010 L197,1180 L530,1409 L696,1409 L696,0 Z" fill="#222"/>
<text x="527.60" y="340.60" font-family="'Liberation Sans', sans-serif" font-size="14.5" fill="#222" text-anchor="middle">-8</text>
<text x="565.50" y="340.60" font-family="'Liberation Sans', sans-serif" font-size="14.5" fill="#222" text-anchor="middle">-4</text>
<text x="603.40" y="340.60" font-family="'Liberation Sans', sans-serif" font-size="14.5" fill="#222" text-anchor="middle">0</text>
<text x="641.30" y="340.60" font-family="'Liberation Sans', sans-serif" font-size="14.5" fill="#222" text-anchor="middle">4</text>
<text x="679.20" y="340.60" font-family="'Liberation Sans', sans-serif" font-size="14.5" fill="#222" text-anchor="middle">8</text>
<svg x="526.8000000000001" y="202.6" width="153.20000000000002" height="119.30000000000001" viewBox="526.8000000000001 202.6 153.20000000000002 119.30000000000001" overflow="hidden">
<path d="M527.6,218.4 C533.0,218.6 552.1,219.0 560.0,219.3 C567.9,219.7 570.0,219.8 575.0,220.5 C580.0,221.2 585.0,222.3 590.0,223.5 C595.0,224.7 600.9,226.3 605.0,227.8 C609.1,229.3 610.8,229.7 614.5,232.7 C618.2,235.7 623.7,241.4 627.5,245.7 C631.3,250.0 634.5,254.6 637.2,258.7 C639.9,262.8 641.6,265.6 643.7,270.0 C645.8,274.4 648.5,280.8 650.0,285.0 C651.5,289.2 652.5,293.3 653.0,295.0" fill="none" stroke="#27aae0" stroke-width="1.8" stroke-linejoin="round" stroke-linecap="round"/>
<path d="M527.6,226.6 C534.7,226.7 560.4,226.9 570.0,227.3 C579.6,227.7 580.8,228.4 585.0,229.0 C589.2,229.6 591.7,230.0 595.0,230.8 C598.3,231.6 602.3,233.1 605.0,234.0 C607.7,234.9 608.5,234.3 611.2,236.5 C613.9,238.7 617.8,243.4 621.0,247.4 C624.2,251.4 628.1,256.6 630.7,260.4 C633.3,264.2 634.1,265.0 636.4,270.0 C638.7,275.0 642.1,285.4 644.4,290.4 C646.7,295.4 649.1,298.4 650.0,300.0" fill="none" stroke="#27aae0" stroke-width="1.8" stroke-linejoin="round" stroke-linecap="round"/>
<path d="M527.6,227.0 C534.7,227.1 558.8,227.0 570.0,227.8 C581.2,228.6 588.2,230.3 595.0,232.0 C601.8,233.7 606.7,235.1 611.0,238.0 C615.3,240.9 617.8,245.4 621.0,249.5 C624.2,253.6 627.7,258.8 630.0,262.5 C632.3,266.2 632.8,267.1 635.0,272.0 C637.2,276.9 640.8,287.0 643.0,292.0 C645.2,297.0 647.2,300.3 648.0,302.0" fill="none" stroke="#27aae0" stroke-width="1.8" stroke-linejoin="round" stroke-linecap="round"/>
<path d="M527.6,227.2 C535.0,227.3 562.4,227.3 571.7,228.0 C581.0,228.7 580.3,229.9 583.4,231.3 C586.5,232.7 588.6,234.9 590.4,236.5 C592.1,238.1 592.7,239.6 593.9,240.6 C595.1,241.6 596.2,241.7 597.4,242.4 C598.6,243.1 599.4,242.5 600.9,244.7 C602.4,246.9 604.4,251.8 606.4,255.5 C608.4,259.2 611.3,264.5 612.9,266.9 C614.5,269.3 614.9,268.0 616.0,270.0 C617.1,272.0 618.5,274.3 619.7,279.0 C621.0,283.7 622.5,294.4 623.5,298.0 C624.5,301.6 625.1,300.3 625.4,300.8" fill="none" stroke="#27aae0" stroke-width="1.8" stroke-linejoin="round" stroke-linecap="round"/>
<path d="M625.4,300.8 L625.4,302.3 L627.7,312.0 L629.7,300.5 L631.8,302.3 L633.7,317.9 L636.0,299.3 L637.6,309.1 L639.7,301.2 L641.8,316.9 L644.0,305.1 L645.4,299.1 L646.7,302.4 L648.3,303.5 L649.7,300.1" fill="none" stroke="#27aae0" stroke-width="1.8" stroke-linejoin="round" stroke-linecap="round" />
<path d="M527.6,217.3 C540.5,217.8 588.9,219.3 605.0,220.0 C621.1,220.7 619.4,220.8 624.2,221.4 C629.0,222.0 631.0,222.9 634.0,223.8 C637.0,224.7 639.9,225.5 642.1,227.0 C644.3,228.5 645.5,230.1 647.0,232.7 C648.5,235.3 649.8,238.7 651.0,242.5 C652.2,246.3 653.2,250.9 654.3,255.5 C655.4,260.1 656.5,265.1 657.5,270.0 C658.5,274.9 659.2,281.3 660.0,285.0 C660.8,288.7 661.7,290.8 662.0,292.0" fill="none" stroke="#4459f2" stroke-width="1.8" stroke-linejoin="round" stroke-linecap="round"/>
<path d="M527.6,223.5 C540.5,223.8 588.4,224.3 605.0,225.0 C621.6,225.7 622.1,226.9 627.5,227.9 C632.9,228.9 634.5,229.5 637.2,231.1 C639.9,232.7 641.8,234.6 643.7,237.6 C645.6,240.6 647.0,243.6 648.6,249.0 C650.2,254.4 652.3,264.0 653.5,270.0 C654.7,276.0 655.4,281.3 656.0,285.0 C656.6,288.7 656.8,290.8 657.0,292.0" fill="none" stroke="#4459f2" stroke-width="1.8" stroke-linejoin="round" stroke-linecap="round"/>
<path d="M527.6,224.5 C540.5,224.7 587.8,224.7 605.0,225.5 C622.2,226.3 625.1,227.2 630.7,229.5 C636.4,231.8 636.7,235.7 638.9,239.2 C641.1,242.7 642.0,245.5 643.7,250.6 C645.5,255.7 648.0,264.3 649.4,270.0 C650.8,275.7 651.4,281.3 652.0,285.0 C652.6,288.7 652.8,290.8 653.0,292.0" fill="none" stroke="#4459f2" stroke-width="1.8" stroke-linejoin="round" stroke-linecap="round"/>
<path d="M527.6,225.5 C540.5,225.6 587.5,224.9 605.0,226.0 C622.5,227.1 626.9,229.2 632.4,231.9 C637.9,234.7 636.4,238.6 638.0,242.5 C639.6,246.4 640.6,250.9 642.1,255.5 C643.6,260.1 645.7,265.9 647.0,270.0 C648.3,274.1 649.3,276.7 650.0,280.0 C650.7,283.3 650.8,288.3 651.0,290.0" fill="none" stroke="#4459f2" stroke-width="1.8" stroke-linejoin="round" stroke-linecap="round"/>
<path d="M650.0,291.8 L651.7,305.1 L653.8,295.7 L655.9,318.5 L658.0,291.6 L659.4,308.0 L661.0,306.7 L662.6,298.0 L664.9,296.1 L667.0,308.3 L668.6,310.0 L670.9,293.0 L673.1,307.8 L674.5,291.6 L676.4,315.6 L678.3,296.3 L679.8,306.5" fill="none" stroke="#4459f2" stroke-width="1.8" stroke-linejoin="round" stroke-linecap="round" />
<path d="M652.0,285.4 L654.1,314.7 L656.1,285.8 L657.5,313.7 L659.1,291.8 L660.7,294.9 L662.2,292.0 L663.7,291.2 L665.4,285.6 L667.2,309.2 L669.4,286.0 L671.3,313.4 L673.6,291.0 L675.4,311.5 L677.7,302.2 L679.0,302.2" fill="none" stroke="#4459f2" stroke-width="1.8" stroke-linejoin="round" stroke-linecap="round" />
<path d="M656.0,291.5 L658.1,314.3 L659.6,295.9 L661.3,317.5 L663.5,288.9 L665.4,288.1 L666.7,313.3 L668.7,290.8 L670.4,306.4 L672.1,298.8 L673.6,314.0 L675.4,291.8 L676.8,306.0 L678.5,290.3 L679.9,315.8" fill="none" stroke="#4459f2" stroke-width="1.8" stroke-linejoin="round" stroke-linecap="round" />
<path d="M648.0,299.5 L650.3,321.1 L652.3,293.8 L654.1,310.9 L655.6,295.7 L657.2,307.1 L658.6,310.6 L660.4,295.3 L661.9,315.2 L663.4,321.6 L665.6,297.8 L667.4,303.2 L669.6,300.3 L671.0,312.2 L672.7,293.6 L674.6,309.7 L676.3,296.9 L678.5,301.9" fill="none" stroke="#27aae0" stroke-width="1.8" stroke-linejoin="round" stroke-linecap="round" />
<path d="M655.0,292.9 L656.6,308.5 L658.5,291.3 L659.9,317.1 L661.2,305.6 L663.1,286.5 L664.6,321.1 L666.0,289.4 L667.9,297.9 L669.2,292.5 L671.1,300.9 L673.1,291.8 L675.4,298.0 L676.7,286.3 L678.0,310.8 L679.8,289.0" fill="none" stroke="#27aae0" stroke-width="1.8" stroke-linejoin="round" stroke-linecap="round" />
</svg>
<text x="537.3" y="279.9" font-family="'Liberation Serif', serif" font-size="9" fill="#222" text-anchor="start" >4 WSe<tspan font-size="6" dy="1.8">2</tspan><tspan dy="-1.8"> FETs</tspan></text>
<text x="536" y="296" font-family="'Liberation Serif', serif" font-size="11.2" fill="#222" text-anchor="start"><tspan font-style="italic" font-size="11.8">V</tspan><tspan font-style="italic" font-weight="bold" font-size="7.2" dx="-1.6" dy="1.7">BG</tspan><tspan dx="2.4" dy="-1.7" fill="#6a6a6a"> =</tspan><tspan dx="1.2"> -4 V</tspan></text>
<text x="538.8" y="311.6" font-family="'Liberation Serif', serif" font-size="11.2" fill="#222" text-anchor="start"><tspan font-style="italic" font-size="11.8">V</tspan><tspan font-style="italic" font-weight="bold" font-size="7.2" dx="-1.6" dy="1.7">DS</tspan><tspan dx="2.4" dy="-1.7" fill="#6a6a6a"> =</tspan><tspan dx="1.2"> 1 V</tspan></text>
<text transform="translate(476.9,262.4) rotate(-90) scale(1.07,1)" font-family="'Liberation Sans', sans-serif" font-size="15.5" fill="#222" text-anchor="middle">I<tspan font-size="12" dy="7.3">DS</tspan><tspan font-size="16" dy="-7.3"> (A/</tspan><tspan font-size="16" font-family="'Liberation Serif', serif" font-style="italic">μ</tspan><tspan font-size="16">m)</tspan></text>
<text x="603.4" y="361.5" font-family="'Liberation Sans', sans-serif" font-size="16.5" fill="#222" text-anchor="middle">V<tspan font-size="12" dy="7.1">TG</tspan><tspan dy="-7.1"> (V)</tspan></text>
</svg></body></html>
